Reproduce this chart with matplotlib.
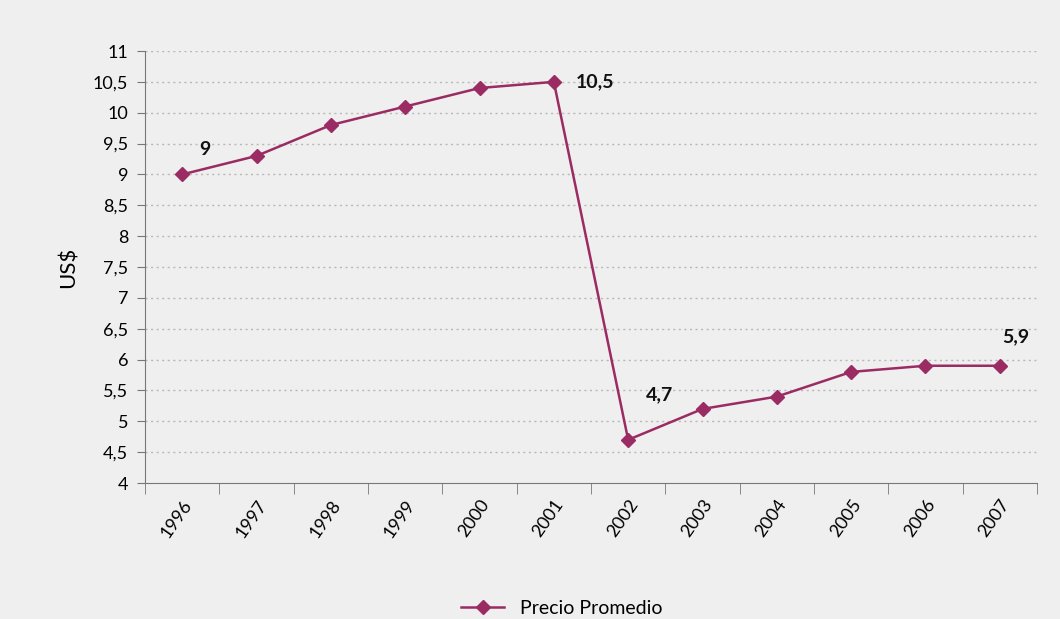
import numpy as np
from matplotlib import pyplot as plt

years = ["1996", "1997", "1998", "1999", "2000", "2001",
         "2002", "2003", "2004", "2005", "2006", "2007"]
precio = [9.0, 9.3, 9.8, 10.1, 10.4, 10.5, 4.7, 5.2, 5.4, 5.8, 5.9, 5.9]
etiquetas = {0: "9", 5: "10,5", 6: "4,7", 11: "5,9"}

plt.rcParams["font.family"] = ["Lato", "DejaVu Sans"]
line_clr = "#9b2b63"

fig = plt.figure(figsize=(10.6, 6.19), dpi=100, facecolor="#efefef")
ax = fig.add_axes([0.1368, 0.2197, 0.8415, 0.6979])
ax.set_facecolor("#efefef")

x = np.arange(len(years))
ax.plot(x, precio, color=line_clr, lw=1.8, marker="D", ms=7,
        markerfacecolor=line_clr, markeredgecolor=line_clr, label="Precio Promedio")

# label offsets in data units (x, y)
offsets = {0: (0.31, 0.4), 5: (0.55, 0.0), 6: (0.42, 0.73), 11: (0.21, 0.47)}
for i, txt in etiquetas.items():
    dx, dy = offsets[i]
    ax.text(x[i] + dx, precio[i] + dy, txt, fontsize=14, fontweight="bold",
            ha="center", va="center", color="#111111")

ax.set_xlim(-0.5, len(years) - 0.5)
ax.set_ylim(4, 11)
yt = np.arange(4, 11.01, 0.5)
ax.set_yticks(yt)
ax.set_yticklabels([("%g" % v).replace(".", ",") for v in yt], fontsize=13)
ax.set_xticks(x)
ax.set_xticklabels(years, rotation=55, ha="right", rotation_mode="anchor", fontsize=13)
ax.tick_params(axis="x", length=0, pad=10)
ax.set_xticks(np.arange(-0.5, len(years)), minor=True)
ax.tick_params(axis="x", which="minor", length=8, color="#777777")
ax.tick_params(axis="y", length=6, color="#777777", pad=6)

for v in yt[1:]:
    ax.axhline(v, color="#b8b8b8", lw=1, ls=(0, (1.5, 2.5)), zorder=0)

for s in ["top", "right"]:
    ax.spines[s].set_visible(False)
ax.spines["left"].set_color("#777777")
ax.spines["bottom"].set_color("#777777")

ax.set_ylabel("US$", fontsize=16, labelpad=10)

fig.legend(loc="lower center", bbox_to_anchor=(0.53, -0.025), frameon=False,
           fontsize=14, handlelength=2.2)

fig.savefig("out.png", dpi=100, facecolor=fig.get_facecolor())
